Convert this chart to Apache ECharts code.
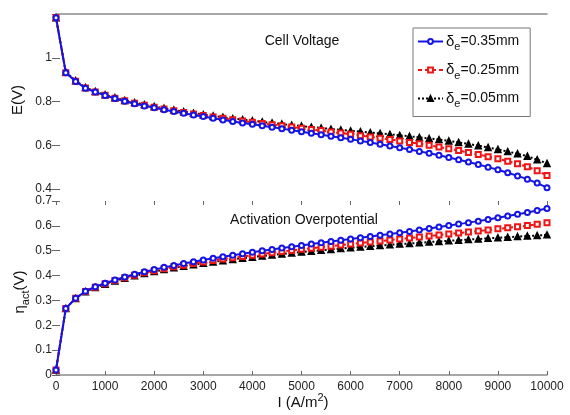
<!DOCTYPE html>
<html>
<head>
<meta charset="utf-8">
<title>E and eta_act</title>
<style>
html,body{margin:0;padding:0;background:#fff;}
#main{width:570px;height:415px;}
</style>
</head>
<body>
<div id="main"></div>
<script src="https://cdn.jsdelivr.net/npm/echarts@6/dist/echarts.min.js"></script>
<script>
// current density, A/m2
var current = [0,200,400,600,800,1000,1200,1400,1600,1800,2000,2200,2400,2600,2800,3000,3200,3400,3600,3800,4000,
  4200,4400,4600,4800,5000,5200,5400,5600,5800,6000,6200,6400,6600,6800,7000,7200,7400,7600,7800,8000,
  8200,8400,8600,8800,9000,9200,9400,9600,9800,10000];
var thickness = ['0.35mm', '0.25mm', '0.05mm'];

// cell voltage E(V)
var volt035 = [1.183,0.931,0.892,0.861,0.843,0.828,0.814,0.801,0.790,0.780,0.771,0.762,0.754,0.746,0.738,0.731,0.723,0.716,0.709,0.702,0.696,
  0.689,0.682,0.676,0.669,0.662,0.655,0.648,0.641,0.634,0.627,0.620,0.613,0.605,0.597,0.589,0.581,0.572,0.563,0.554,0.544,
  0.534,0.523,0.512,0.500,0.488,0.474,0.460,0.445,0.427,0.406];
var volt025 = [1.183,0.932,0.893,0.862,0.844,0.829,0.815,0.803,0.792,0.783,0.774,0.766,0.758,0.750,0.743,0.736,0.729,0.723,0.717,0.711,0.705,
  0.700,0.694,0.689,0.683,0.678,0.672,0.667,0.661,0.656,0.650,0.644,0.638,0.632,0.626,0.620,0.613,0.607,0.600,0.592,0.584,
  0.576,0.567,0.558,0.548,0.538,0.527,0.515,0.502,0.484,0.462];
var volt005 = [1.183,0.934,0.895,0.864,0.846,0.831,0.817,0.805,0.795,0.786,0.777,0.769,0.761,0.754,0.747,0.740,0.734,0.728,0.722,0.717,0.712,
  0.707,0.702,0.697,0.692,0.688,0.683,0.679,0.674,0.670,0.666,0.662,0.658,0.654,0.650,0.645,0.641,0.636,0.631,0.626,0.620,
  0.613,0.606,0.598,0.590,0.581,0.571,0.561,0.550,0.534,0.517];

// activation overpotential eta_act(V)
var act035 = [0.02,0.268,0.309,0.337,0.355,0.369,0.382,0.394,0.405,0.415,0.424,0.433,0.441,0.449,0.456,0.463,0.470,0.476,0.482,0.488,0.494,
  0.500,0.505,0.511,0.516,0.521,0.527,0.532,0.537,0.542,0.547,0.552,0.557,0.562,0.567,0.572,0.577,0.583,0.589,0.595,0.601,
  0.607,0.613,0.619,0.626,0.633,0.640,0.647,0.654,0.662,0.670];
var act025 = [0.02,0.268,0.309,0.336,0.353,0.367,0.380,0.391,0.401,0.411,0.419,0.427,0.435,0.442,0.449,0.455,0.461,0.467,0.472,0.477,0.482,
  0.487,0.492,0.497,0.501,0.506,0.510,0.514,0.518,0.523,0.527,0.531,0.535,0.539,0.543,0.547,0.551,0.555,0.559,0.563,0.567,
  0.571,0.575,0.579,0.583,0.588,0.592,0.596,0.601,0.606,0.612];
var act005 = [0.02,0.268,0.308,0.335,0.352,0.365,0.378,0.389,0.399,0.408,0.416,0.424,0.431,0.438,0.444,0.450,0.455,0.460,0.465,0.470,0.474,
  0.479,0.483,0.487,0.491,0.495,0.498,0.502,0.505,0.509,0.512,0.515,0.518,0.521,0.524,0.527,0.529,0.532,0.535,0.537,0.540,
  0.542,0.545,0.547,0.550,0.552,0.554,0.557,0.559,0.561,0.564];

function pairs(ys){
  return current.map(function(x, i){ return [x, ys[i]]; });
}

var styles = [
  {color:'#1414e6', symbol:'emptyCircle', size:5, type:'solid', width:2},
  {color:'#f01414', symbol:'emptyRect', size:5, type:[4,3], width:2},
  {color:'#000000', symbol:'triangle', size:6, type:'dotted', width:2}
];
var voltSets = [volt035, volt025, volt005];
var actSets = [act035, act025, act005];

var series = [];
function addSeries(sets, xi, yi){
  sets.forEach(function(ys, k){
    var s = styles[k];
    series.push({
      type:'line', name:'δe=' + thickness[k],
      xAxisIndex:xi, yAxisIndex:yi,
      data:pairs(ys),
      symbol:s.symbol, symbolSize:s.size, showAllSymbol:true,
      lineStyle:{color:s.color, width:s.width, type:s.type},
      itemStyle:{color:s.color, borderColor:s.color, borderWidth:1.5},
      animation:false, z:5 - k
    });
  });
}
addSeries(voltSets, 0, 0);
addSeries(actSets, 2, 2);

var tickCol = '#666';
var lblStyle = {color:'#222', fontSize:12, fontFamily:'Liberation Sans, Arial'};

var myChart = echarts.init(document.getElementById('main'));
var option = {
  backgroundColor:'#fff',
  animation:false,
  grid:[
    {left:56, right:23, top:14, height:175},
    {left:56, right:23, top:201, height:174}
  ],
  xAxis:[
    {gridIndex:0, type:'value', min:0, max:10000, interval:1000, position:'bottom',
      axisLine:{show:false}, axisTick:{show:false}, axisLabel:{show:false}, splitLine:{show:false}},
    {gridIndex:0, type:'value', min:0, max:10000, interval:1000, position:'top',
      axisLine:{show:true, onZero:false, lineStyle:{color:'#8a8a8a', width:1.5}}, axisTick:{show:false}, axisLabel:{show:false}, splitLine:{show:false}},
    {gridIndex:1, type:'value', min:0, max:10000, interval:1000, position:'bottom',
      axisLine:{show:true, onZero:false, lineStyle:{color:'#8a8a8a', width:1.5}},
      axisTick:{show:true, inside:true, length:4, lineStyle:{color:tickCol}},
      axisLabel:Object.assign({margin:6, showMaxLabel:true, showMinLabel:true,
        formatter:function(v){ return String(v); }}, lblStyle),
      splitLine:{show:false}},
    {gridIndex:1, type:'value', min:0, max:10000, interval:1000, position:'top',
      axisLine:{show:false, onZero:false}, axisTick:{show:true, inside:true, length:4, lineStyle:{color:tickCol}},
      axisLabel:{show:false}, splitLine:{show:false}}
  ],
  yAxis:[
    {gridIndex:0, type:'value', min:0.4, max:1.2, interval:0.2, position:'left',
      axisLine:{show:false}, axisTick:{show:true, inside:true, length:4, lineStyle:{color:tickCol}},
      axisLabel:Object.assign({margin:4, showMaxLabel:false}, lblStyle), splitLine:{show:false}},
    {gridIndex:0, type:'value', min:0.4, max:1.2, interval:0.2, position:'right',
      axisLine:{show:false}, axisTick:{show:true, inside:true, length:4, lineStyle:{color:tickCol}},
      axisLabel:{show:false}, splitLine:{show:false}},
    {gridIndex:1, type:'value', min:0, max:0.7, interval:0.1, position:'left',
      axisLine:{show:false}, axisTick:{show:true, inside:true, length:4, lineStyle:{color:tickCol}},
      axisLabel:Object.assign({margin:4}, lblStyle), splitLine:{show:false}},
    {gridIndex:1, type:'value', min:0, max:0.7, interval:0.1, position:'right',
      axisLine:{show:false}, axisTick:{show:true, inside:true, length:4, lineStyle:{color:tickCol}},
      axisLabel:{show:false}, splitLine:{show:false}}
  ],
  legend:{
    orient:'vertical', left:413, top:28,
    data:series.slice(0, 3).map(function(s){ return s.name; }),
    backgroundColor:'#fff', borderColor:'#777', borderWidth:1, borderRadius:0,
    padding:[6, 11, 7, 4], itemGap:10, itemWidth:25, itemHeight:6,
    formatter:function(name){
      return '{d|δ}{s|e}{t|' + name.replace('δe', '') + '}';
    },
    textStyle:{
      color:'#111', fontFamily:'Liberation Sans, Arial', padding:[0,0,0,-2],
      rich:{
        d:{fontSize:15, lineHeight:22, fontFamily:'Liberation Sans, Arial'},
        s:{fontSize:11, lineHeight:13, verticalAlign:'bottom', fontFamily:'Liberation Sans, Arial'},
        t:{fontSize:14, lineHeight:22, fontFamily:'Liberation Sans, Arial'}
      }
    }
  },
  graphic:[
    {type:'text', x:302, y:41, style:{text:'Cell Voltage', font:'14px "Liberation Sans", Arial', fill:'#111', textAlign:'center', textVerticalAlign:'middle'}},
    {type:'text', x:304, y:220, style:{text:'Activation Overpotential', font:'14px "Liberation Sans", Arial', fill:'#111', textAlign:'center', textVerticalAlign:'middle'}},
    {type:'text', x:18, y:100, rotation:Math.PI / 2, style:{text:'E(V)', font:'15px "Liberation Sans", Arial', fill:'#111', textAlign:'center', textVerticalAlign:'middle'}},
    {type:'text', x:20, y:292, rotation:Math.PI / 2, style:{
      text:'{a|η}{b|act}{a|(V)}', fill:'#111', textAlign:'center', textVerticalAlign:'middle',
      rich:{
        a:{fontSize:15, lineHeight:22, fontFamily:'Liberation Sans, Arial', fill:'#111'},
        b:{fontSize:11, lineHeight:13, verticalAlign:'bottom', fontFamily:'Liberation Sans, Arial', fill:'#111'}
      }}},
    {type:'text', x:303, y:403, style:{
      text:'{a|I (A/m}{b|2}{a|)}', fill:'#111', textAlign:'center', textVerticalAlign:'middle',
      rich:{
        a:{fontSize:15, lineHeight:22, fontFamily:'Liberation Sans, Arial', fill:'#111'},
        b:{fontSize:11, lineHeight:13, verticalAlign:'top', fontFamily:'Liberation Sans, Arial', fill:'#111'}
      }}}
  ],
  series:series
};
myChart.setOption(option);
</script>
</body>
</html>
